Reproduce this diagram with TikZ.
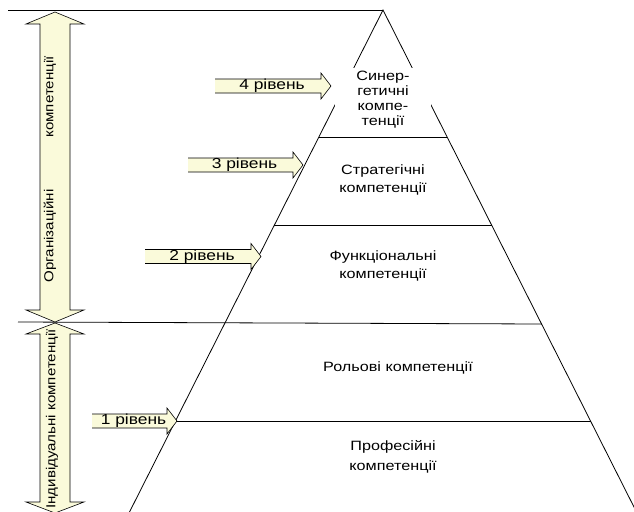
\documentclass[tikz,border=0pt]{standalone}
\usepackage{fontspec}
\setmainfont{Liberation Sans}
\newfontfamily\widefont[FakeStretch=1.2]{Liberation Sans}
\newfontfamily\rotfont[FakeStretch=1.16]{Liberation Sans}
\definecolor{arrowfill}{RGB}{250,250,218}
\newcommand{\levelarrow}[5]{%
  \fill[arrowfill] (#2,#4-7) -- (#3-10,#4-7) -- (#3-10,#4-13) -- (#3,#4) -- (#3-10,#4+13) -- (#3-10,#4+7) -- (#2,#4+7) -- cycle;
  \draw[arrline] (#2,#4-7) -- (#3-10,#4-7) -- (#3-10,#4-13) -- (#3,#4) -- (#3-10,#4+13) -- (#3-10,#4+7) -- (#2,#4+7);
  \node[lvl] (#1) at ({(#2+#3-10)/2+4},#4) {#5};}
\newcommand{\dblarrow}[4]{% xc, ytop, ybot, headlen
  \draw[arrline, fill=arrowfill] (#1,#2) -- (#1+29,#2+#4) -- (#1+15,#2+#4) -- (#1+15,#3-#4) -- (#1+29,#3-#4) -- (#1,#3) -- (#1-29,#3-#4) -- (#1-15,#3-#4) -- (#1-15,#2+#4) -- (#1-29,#2+#4) -- cycle;}
\begin{document}
\begin{tikzpicture}[x=1pt,y=-1pt,
  lbl/.style={font=\widefont\fontsize{13.5}{15}\selectfont, align=center, inner sep=0pt},
  lvl/.style={font=\widefont\fontsize{14.5}{15}\selectfont, inner sep=0pt},
  rot/.style={font=\rotfont\fontsize{13}{15}\selectfont, inner sep=0pt, rotate=90},
  pline/.style={line width=0.8pt, draw=black},
  arrline/.style={line width=0.6pt, draw=black}]
\useasboundingbox (0,0) rectangle (634,511);
\clip (0,0) rectangle (634,511);
% pyramid
\coordinate (apex) at (383,10);
\coordinate (bl) at (129,513);
\coordinate (br) at (637,513);
\coordinate (topend) at (8,10);
\coordinate (orgend) at (18,322);
\draw[pline] (topend) -- (apex);
\draw[pline] (bl) -- (apex) -- (br);
\coordinate (l1a) at (318.8,137); \coordinate (l1b) at (447.2,137);
\coordinate (l2a) at (274.3,225); \coordinate (l2b) at (491.7,225);
\coordinate (l3b) at (541.8,324);
\coordinate (l4a) at (174.7,421); \coordinate (l4b) at (591.3,421);
\draw[pline] (l1a) -- (l1b);
\draw[pline] (l2a) -- (l2b);
\draw[pline] (orgend) -- (l3b);
\draw[pline] (l4a) -- (l4b);
% texts in pyramid
\node[lbl, fill=white, minimum width=96pt, minimum height=64pt] (syn) at (383,100) {Синер-\\гетичні\\компе-\\тенції};
\node[lbl, font=\widefont\fontsize{13.5}{18}\selectfont] (strat) at (383,180) {Стратегічні\\компетенції};
\node[lbl, font=\widefont\fontsize{13.5}{18.5}\selectfont] (func) at (383,266) {Функціональні\\компетенції};
\node[lbl] (role) at (398,368) {Рольові компетенції};
\node[lbl, font=\widefont\fontsize{13.5}{19.5}\selectfont] (prof) at (393,457) {Професійні\\компетенції};
% level arrows
\levelarrow{lv4}{215}{331}{86}{4 рівень}
\levelarrow{lv3}{188}{303}{165}{3 рівень}
\levelarrow{lv2}{145}{261}{256.5}{2 рівень}
\levelarrow{lv1}{92}{177}{421}{1 рівень}
% double arrows
\dblarrow{55}{12}{322}{12}
\dblarrow{55}{323}{513}{11}
\node[rot] (org1) at (50,236) {Організаційні};
\node[rot] (org2) at (50,97) {компетенції};
\node[rot] (ind) at (52,419) {Індивідуальні компетенції};
\end{tikzpicture}
\end{document}
